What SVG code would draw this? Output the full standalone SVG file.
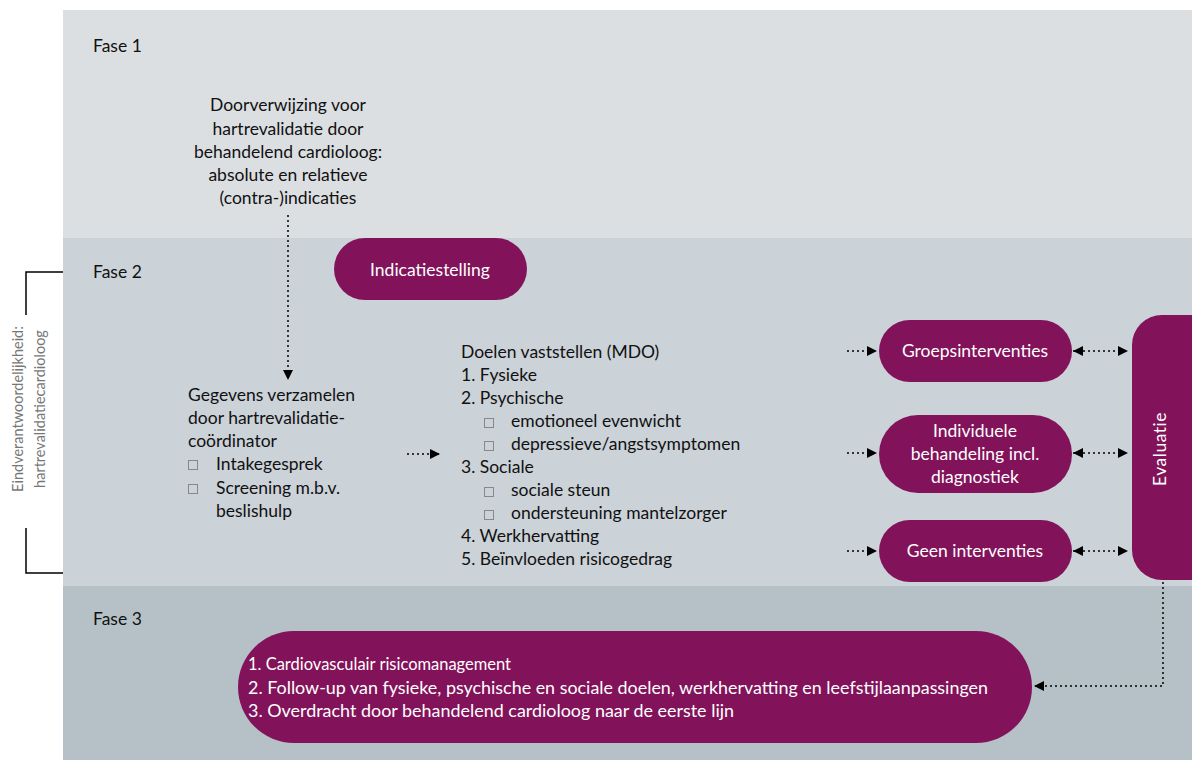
<svg xmlns="http://www.w3.org/2000/svg" width="1192" height="760" viewBox="0 0 1192 760">
<defs>
<marker id="ah" viewBox="0 0 10 10" refX="10" refY="5" markerWidth="10" markerHeight="10" markerUnits="userSpaceOnUse" orient="auto-start-reverse">
<path d="M0,0 L10,5 L0,10 z" fill="#000"/>
</marker>
</defs>
<style>
text{font-family:Lato,"Open Sans","Liberation Sans",sans-serif;font-size:17.5px;fill:#111}
.w{fill:#fff}
.c{text-anchor:middle}
.pill{fill:#82135a}
.dot{stroke:#000;stroke-width:1.5;stroke-dasharray:2 3;fill:none}
.bx{fill:none;stroke:#888;stroke-width:1}
.g{fill:#777;font-size:14.5px}
</style>
<rect x="0" y="0" width="1192" height="760" fill="#fff"/>
<g id="fase1"><rect x="63" y="10" width="1129" height="228" fill="#dcdfe2"/><text x="93" y="52">Fase 1</text></g>
<g id="fase2"><rect x="63" y="238" width="1129" height="348" fill="#cbd2d8"/><text x="93" y="278">Fase 2</text></g>
<g id="fase3"><rect x="63" y="586" width="1129" height="174" fill="#b5c1c6"/><text x="93" y="625">Fase 3</text></g>
<g id="bracket">
<path d="M63,272 H26 V315 M26,528 V573 H63" fill="none" stroke="#000" stroke-width="1.5"/>
<text class="g c" transform="translate(23,409) rotate(-90)">Eindverantwoordelijkheid:</text>
<text class="g c" transform="translate(45,409) rotate(-90)">hartrevalidatiecardioloog</text>
</g>
<g id="doorverwijzing">
<text class="c" x="288" y="111">Doorverwijzing voor</text>
<text class="c" x="288" y="135">hartrevalidatie door</text>
<text class="c" x="288" y="158">behandelend cardioloog:</text>
<text class="c" x="288" y="181">absolute en relatieve</text>
<text class="c" x="288" y="204">(contra-)indicaties</text>
</g>
<g id="indicatiestelling"><rect class="pill" x="334" y="238" width="193" height="62" rx="31"/><text class="w c" x="430" y="276">Indicatiestelling</text></g>
<g id="gegevens">
<text x="188" y="401">Gegevens verzamelen</text>
<text x="188" y="424">door hartrevalidatie-</text>
<text x="188" y="447">coördinator</text>
<rect class="bx" x="188.5" y="460.5" width="9" height="9"/><text x="216" y="470">Intakegesprek</text>
<rect class="bx" x="188.5" y="484.5" width="9" height="9"/><text x="216" y="494">Screening m.b.v.</text>
<text x="216" y="517">beslishulp</text>
</g>
<g id="doelen">
<text x="461" y="358">Doelen vaststellen (MDO)</text>
<text x="461" y="381">1. Fysieke</text>
<text x="461" y="404">2. Psychische</text>
<rect class="bx" x="484.5" y="418.5" width="9" height="9"/><text x="511" y="427">emotioneel evenwicht</text>
<rect class="bx" x="484.5" y="441.5" width="9" height="9"/><text x="511" y="450">depressieve/angstsymptomen</text>
<text x="461" y="473">3. Sociale</text>
<rect class="bx" x="484.5" y="487.5" width="9" height="9"/><text x="511" y="496">sociale steun</text>
<rect class="bx" x="484.5" y="510.5" width="9" height="9"/><text x="511" y="519">ondersteuning mantelzorger</text>
<text x="461" y="542">4. Werkhervatting</text>
<text x="461" y="565">5. Beïnvloeden risicogedrag</text>
</g>
<g id="groeps"><rect class="pill" x="879" y="320" width="193" height="62" rx="31"/><text class="w c" x="975" y="357">Groepsinterventies</text></g>
<g id="individueel"><rect class="pill" x="879" y="415" width="193" height="78" rx="39"/>
<text class="w c" x="975" y="437">Individuele</text><text class="w c" x="975" y="460">behandeling incl.</text><text class="w c" x="975" y="483">diagnostiek</text></g>
<g id="geen"><rect class="pill" x="879" y="520" width="193" height="62" rx="31"/><text class="w c" x="975" y="557">Geen interventies</text></g>
<g id="evaluatie"><rect class="pill" x="1132" y="315" width="90" height="265" rx="30"/><text class="w c" transform="translate(1166,449) rotate(-90)" letter-spacing="0.5">Evaluatie</text></g>
<g id="fase3pill"><rect class="pill" x="238" y="631" width="794" height="112" rx="56"/>
<text class="w" x="248" y="670" textLength="263" lengthAdjust="spacingAndGlyphs">1. Cardiovasculair risicomanagement</text>
<text class="w" x="248" y="694" textLength="740" lengthAdjust="spacingAndGlyphs">2. Follow-up van fysieke, psychische en sociale doelen, werkhervatting en leefstijlaanpassingen</text>
<text class="w" x="248" y="717" textLength="486" lengthAdjust="spacingAndGlyphs">3. Overdracht door behandelend cardioloog naar de eerste lijn</text>
</g>
<g id="connectors">
<path class="dot" d="M288,215 V380" marker-end="url(#ah)"/>
<path class="dot" d="M407,454 H440" marker-end="url(#ah)"/>
<path class="dot" d="M847,351 H877" marker-end="url(#ah)"/>
<path class="dot" d="M847,453 H877" marker-end="url(#ah)"/>
<path class="dot" d="M847,551 H877" marker-end="url(#ah)"/>
<path class="dot" d="M1073,351 H1128" marker-start="url(#ah)" marker-end="url(#ah)"/>
<path class="dot" d="M1073,453 H1128" marker-start="url(#ah)" marker-end="url(#ah)"/>
<path class="dot" d="M1073,551 H1128" marker-start="url(#ah)" marker-end="url(#ah)"/>
<path class="dot" d="M1163,582 V686 H1034" marker-end="url(#ah)"/>
</g>
</svg>
